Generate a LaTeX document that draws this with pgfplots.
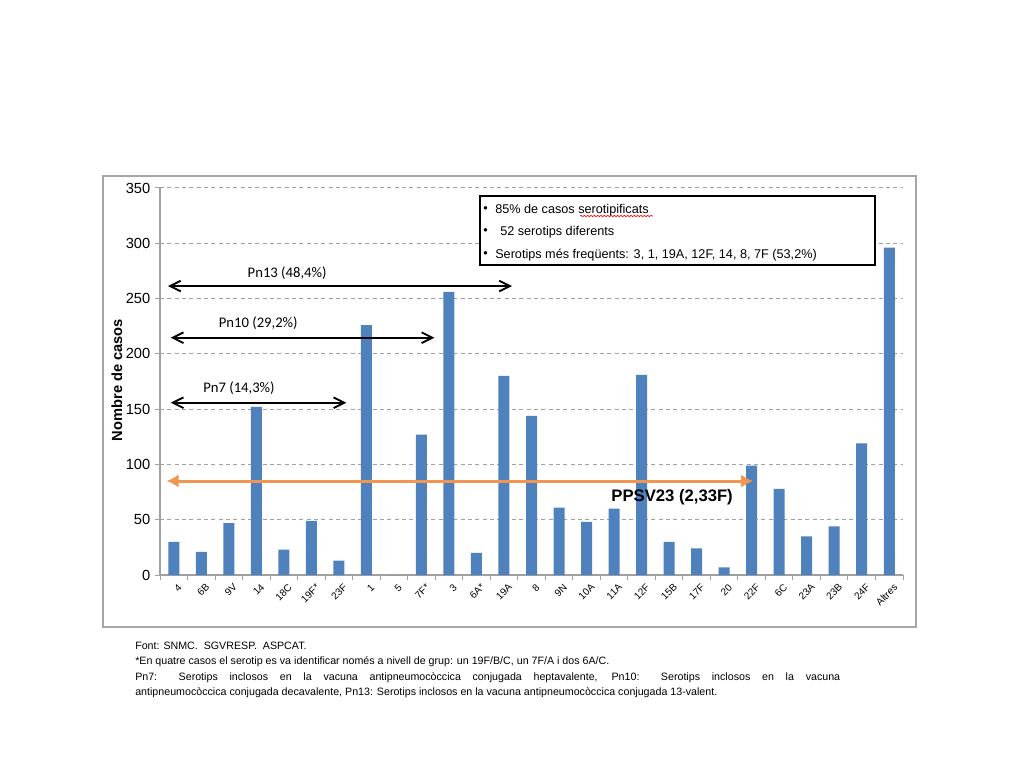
\documentclass[border=0pt]{standalone}
\usepackage{fontspec}
\setmainfont{Liberation Sans}
\newfontfamily\calibri{Carlito}
\usepackage{pgfplots}
\usepackage{pgfplotstable}
\pgfplotsset{compat=1.18}
\usetikzlibrary{arrows.meta,decorations.pathmorphing}

\definecolor{barblue}{HTML}{4F81BD}
\definecolor{arroworange}{HTML}{F29550}
\definecolor{gridgray}{HTML}{A0A0A0}
\definecolor{framegray}{HTML}{A6A6A6}

% casos per serotip (0..26 = 4 ... Altres)
\pgfplotstableread{
idx casos
0 30
1 21
2 47
3 152
4 23
5 49
6 13
7 226
8 0
9 127
10 256
11 20
12 180
13 144
14 61
15 48
16 60
17 181
18 30
19 24
20 7
21 99
22 78
23 35
24 44
25 119
26 296
}\serotips

\begin{document}
\begin{tikzpicture}
\begin{scope}[x=0.75pt,y=0.75pt]
  \path[use as bounding box] (0,0) rectangle (1024,768);
  \draw[framegray, line width=1.5pt] (103,592) rectangle (916,141);
\end{scope}

\begin{axis}[
    at={(120pt,144.75pt)}, anchor=south west,
    scale only axis, width=557.25pt, height=290.25pt,
    xmin=-0.5, xmax=26.5, ymin=0, ymax=350,
    axis x line*=bottom, axis y line*=left,
    axis line style={gridgray, line width=0.9pt, -},
    ybar, bar width=8.25pt,
    xtick={0,...,26},
    xticklabels={4,6B,9V,14,18C,19F*,23F,1,5,7F*,3,6A*,19A,8,9N,10A,11A,12F,15B,17F,20,22F,6C,23A,23B,24F,Altres},
    minor xtick={-0.5,0.5,...,26.5},
    ytick={0,50,...,350},
    tick align=outside,
    major tick length=3.75pt, minor tick length=3.75pt,
    tick style={gridgray, line width=0.75pt},
    major x tick style={draw=none},
    ymajorgrids,
    grid style={gridgray, line width=0.75pt, dash pattern=on 3pt off 2.5pt},
    xticklabel style={font=\fontsize{7.5}{8.5}\selectfont, rotate=45, anchor=north east, inner sep=0.5pt, yshift=-3pt, xshift=1pt},
    yticklabel style={font=\fontsize{11}{12}\selectfont},
    /pgf/number format/assume math mode=true,
    clip=false,
]
\addplot[fill=barblue, draw=none] table[x=idx, y=casos] {\serotips};

% vacunes conjugades
\draw[line width=1.4pt, {Straight Barb[length=8pt,width=8pt]}-{Straight Barb[length=8pt,width=8pt]}] (-0.21,261.3) -- (12.29,261.3);
\draw[line width=1.4pt, {Straight Barb[length=8pt,width=8pt]}-{Straight Barb[length=8pt,width=8pt]}] (-0.11,214.6) -- (9.47,214.6);
\draw[line width=1.4pt, {Straight Barb[length=8pt,width=8pt]}-{Straight Barb[length=8pt,width=8pt]}] (-0.11,155.8) -- (6.27,155.8);
\node[font=\calibri\fontsize{11}{13}\selectfont] at (4.12,272.8) {Pn13 (48,4\%)};
\node[font=\calibri\fontsize{11}{13}\selectfont] at (3.07,227.5) {Pn10 (29,2\%)};
\node[font=\calibri\fontsize{11}{13}\selectfont] at (2.37,168.8) {Pn7 (14,3\%)};

% PPSV23
\draw[arroworange, line width=2.25pt, {Latex[length=9pt,width=10pt]}-{Latex[length=9pt,width=10pt]}] (-0.26,85) -- (21.05,85);
\node[font=\bfseries\fontsize{12.5}{14}\selectfont] at (18.11,70.8) {PPSV23 (2,33F)};
\end{axis}

\begin{scope}[x=0.75pt,y=0.75pt]
  \node[rotate=90, font=\bfseries\fontsize{11}{13}\selectfont] at (117,388) {Nombre de casos};

  % requadre de text
  \draw[black, line width=0.9pt, fill=white] (480,572) rectangle (875,503);
  \begin{scope}[every node/.style={anchor=west, inner sep=0, font=\fontsize{9.5}{11}\selectfont}]
    \node at (483,558) {•};
    \node at (483,536) {•};
    \node at (483,513) {•};
    \node at (495,558) {85\% de casos serotipificats};
    \node at (500,536) {52 serotips diferents};
    \node at (495,513) {Serotips més freqüents: 3, 1, 19A, 12F, 14, 8, 7F (53,2\%)};
  \end{scope}
  \draw[red, line width=0.5pt, decorate, decoration={snake, amplitude=0.5pt, segment length=2.5pt}] (580,552) -- (653,552);

  % notes
  \begin{scope}[every node/.style={anchor=base west, inner sep=0, font=\fontsize{8}{11.6}\selectfont}]
    \node at (135,119) {Font: SNMC.\ \ SGVRESP.\ \ ASPCAT.};
    \node at (135,104) {*En quatre casos el serotip es va identificar només a nivell de grup: un 19F/B/C, un 7F/A i dos 6A/C.};
    \node[text width=528.75pt, align=justify] at (135,88) {\hyphenpenalty=10000 Pn7: Serotips inclosos en la vacuna antipneumocòccica conjugada heptavalente, Pn10: Serotips inclosos en la vacuna\linebreak antipneumocòccica conjugada decavalente, Pn13: Serotips inclosos en la vacuna antipneumocòccica conjugada 13-valent.};
  \end{scope}
\end{scope}
\end{tikzpicture}
\end{document}
